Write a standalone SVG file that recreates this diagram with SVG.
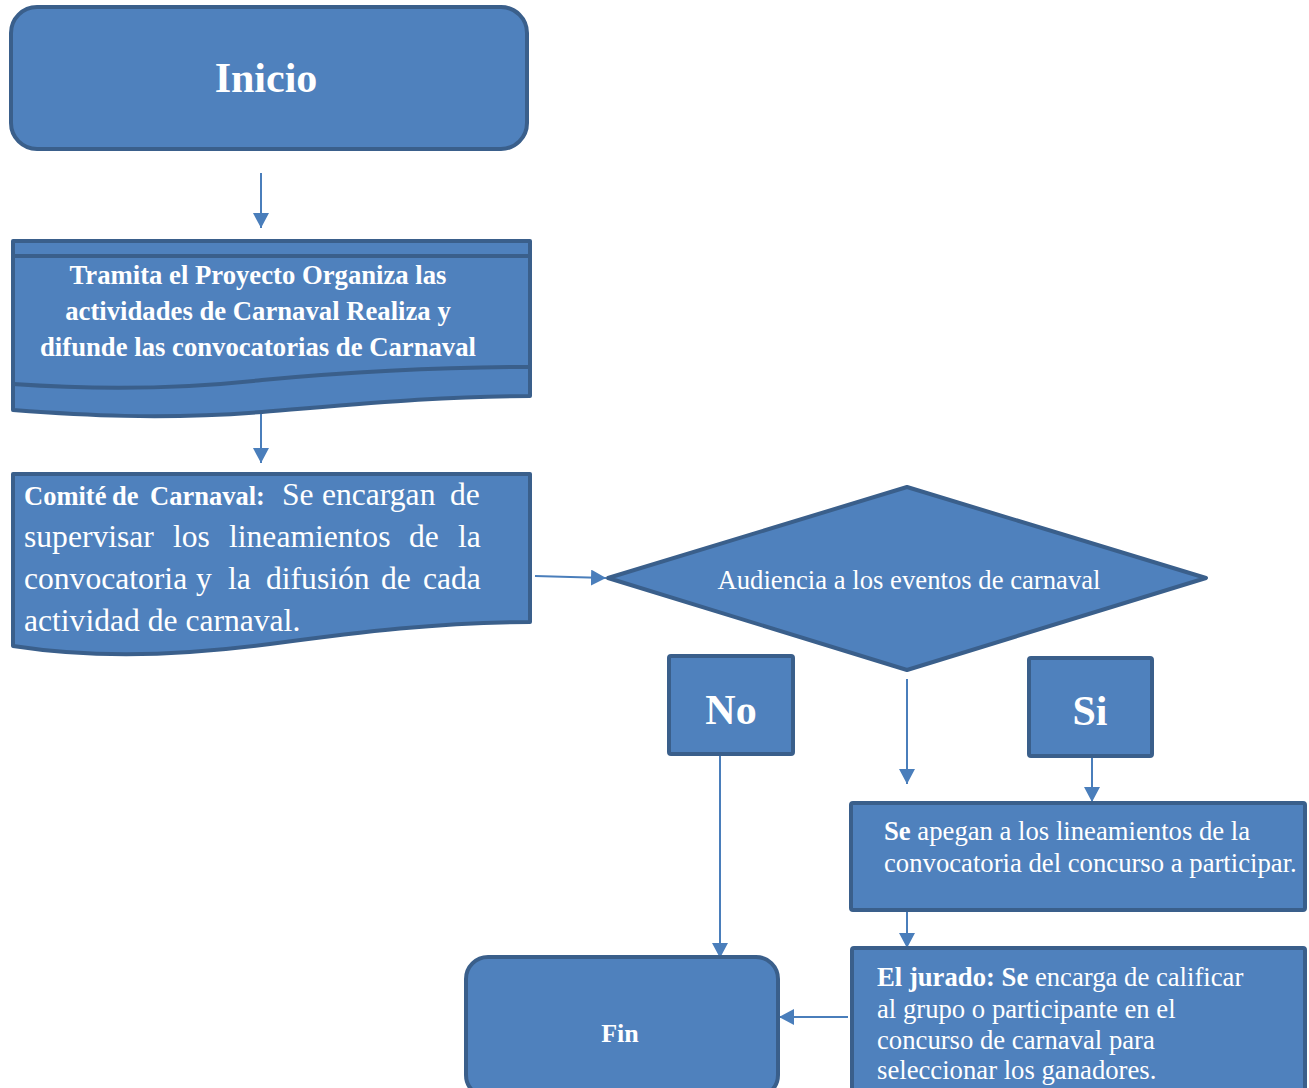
<svg xmlns="http://www.w3.org/2000/svg" width="1309" height="1088" viewBox="0 0 1309 1088">
<style>
.shape{fill:#4f81bd;stroke:#3a5f8b;stroke-width:4;stroke-linejoin:round}
.inner{fill:none;stroke:#3a5f8b;stroke-width:4}
.t{font-family:"Liberation Serif","Times New Roman",serif;fill:#ffffff}
.b{font-weight:bold}
.c{text-anchor:middle}
.conn{fill:none;stroke:#4a7ebb;stroke-width:2}
</style>
<defs>
<marker id="ah" markerUnits="userSpaceOnUse" markerWidth="16" markerHeight="16" refX="15" refY="8" orient="auto">
<path d="M0,0 L15,8 L0,16 Z" fill="#4a7ebb"/>
</marker>
</defs>
<rect width="1309" height="1088" fill="#ffffff"/>
<g id="connectors">
<line class="conn" x1="261" y1="173" x2="261" y2="228" marker-end="url(#ah)"/>
<line class="conn" x1="261" y1="414" x2="261" y2="463" marker-end="url(#ah)"/>
<line class="conn" x1="535" y1="576" x2="606" y2="578" marker-end="url(#ah)"/>
<line class="conn" x1="907" y1="679" x2="907" y2="784" marker-end="url(#ah)"/>
<line class="conn" x1="1092" y1="756" x2="1092" y2="802" marker-end="url(#ah)"/>
<line class="conn" x1="720" y1="754" x2="720" y2="958" marker-end="url(#ah)"/>
<line class="conn" x1="907" y1="910" x2="907" y2="948" marker-end="url(#ah)"/>
<line class="conn" x1="848" y1="1017" x2="779" y2="1017" marker-end="url(#ah)"/>
</g>
<g id="inicio">
<rect class="shape" x="11" y="7" width="516" height="142" rx="26"/>
<text class="t b c" x="266" y="92" font-size="42">Inicio</text>
</g>
<g id="tramita">
<path class="shape" d="M13,241 H530 V396 C440,396 360,404 262,412 C160,420 80,415 13,410 Z"/>
<path class="inner" d="M13,256 H530"/>
<path class="inner" d="M13,384 C100,390 190,388 262,380 C350,372 440,367 530,367"/>
<text class="t b c" font-size="26.7"><tspan x="258" y="284">Tramita el Proyecto Organiza las</tspan><tspan x="258" y="320">actividades de Carnaval Realiza y</tspan><tspan x="258" y="356">difunde las convocatorias de Carnaval</tspan></text>
</g>
<g id="comite">
<path class="shape" d="M13,474 H530 V622 C440,622 360,632 270,644 C180,656 90,658 13,646 Z"/>
<text class="t" font-size="31.6"><tspan class="b" font-size="26.5" x="24" y="505">Comité</tspan><tspan class="b" font-size="26.5" x="112" y="505">de</tspan><tspan class="b" font-size="26.5" x="150" y="505">Carnaval:</tspan><tspan x="282" y="505">Se</tspan><tspan x="322" y="505">encargan</tspan><tspan x="450" y="505">de</tspan></text>
<text class="t" font-size="31.6"><tspan x="24" y="547">supervisar</tspan><tspan x="173" y="547">los</tspan><tspan x="229" y="547">lineamientos</tspan><tspan x="409" y="547">de</tspan><tspan x="458" y="547">la</tspan></text>
<text class="t" font-size="31.6"><tspan x="24" y="589">convocatoria</tspan><tspan x="196" y="589">y</tspan><tspan x="228" y="589">la</tspan><tspan x="266" y="589">difusión</tspan><tspan x="381" y="589">de</tspan><tspan x="423" y="589">cada</tspan></text>
<text class="t" font-size="31.6" x="24" y="631">actividad de carnaval.</text>
</g>
<g id="decision">
<polygon class="shape" points="608,578 907,487 1206,578 907,670"/>
<text class="t c" x="909" y="589" font-size="26.7">Audiencia a los eventos de carnaval</text>
</g>
<g id="no">
<rect class="shape" x="669" y="656" width="124" height="98" rx="2"/>
<text class="t b c" x="731" y="724" font-size="42">No</text>
</g>
<g id="si">
<rect class="shape" x="1029" y="658" width="123" height="98" rx="2"/>
<text class="t b c" x="1090" y="725" font-size="42">Si</text>
</g>
<g id="apegan">
<rect class="shape" x="851" y="803" width="454" height="107" rx="2"/>
<text class="t" font-size="26.7"><tspan x="884" y="840"><tspan class="b">Se</tspan> apegan a los lineamientos de la</tspan><tspan x="884" y="872">convocatoria del concurso a participar.</tspan></text>
</g>
<g id="jurado">
<rect class="shape" x="852" y="948" width="453" height="145" rx="2"/>
<text class="t" font-size="26.7"><tspan x="877" y="986"><tspan class="b">El jurado: Se</tspan> encarga de calificar</tspan><tspan x="877" y="1018">al grupo o participante en el</tspan><tspan x="877" y="1049">concurso de carnaval para</tspan><tspan x="877" y="1079">seleccionar los ganadores.</tspan></text>
</g>
<g id="fin">
<rect class="shape" x="466" y="957" width="312" height="140" rx="22"/>
<text class="t b c" x="620" y="1042" font-size="26">Fin</text>
</g>
</svg>
